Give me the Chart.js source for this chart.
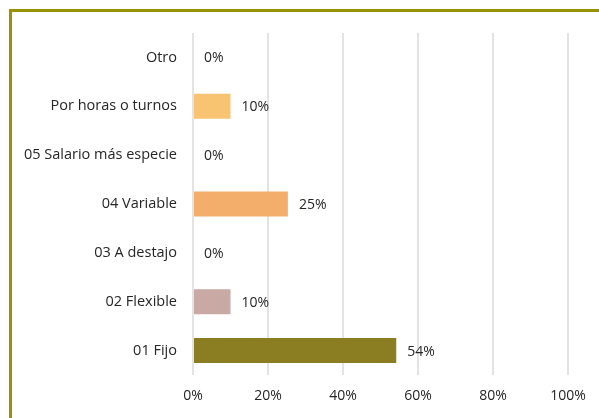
<!DOCTYPE html>
<html>
<head>
<meta charset="utf-8">
<script src="https://cdn.jsdelivr.net/npm/chart.js@4"></script>
<style>
  html, body { margin: 0; padding: 0; background: #fff; }
  #wrap { position: relative; width: 599px; height: 418px; overflow: hidden; }
  #frame { position: absolute; left: 9px; top: 9px; width: 700px; height: 500px;
           border-left: 3px solid #9C9105; border-top: 3px solid #9C9105; box-sizing: border-box; }
  canvas { position: absolute; left: 0; top: 0; }
</style>
</head>
<body>
<div id="wrap">
  <div id="frame"></div>
  <canvas id="c" width="599" height="418"></canvas>
</div>
<script>
const categories = ["Otro", "Por horas o turnos", "05 Salario más especie", "04 Variable", "03 A destajo", "02 Flexible", "01 Fijo"];
const values = [0, 10, 0, 25.3, 0, 10, 54.2];
const barColors = ["#F8C471", "#F8C471", "#F3AE6C", "#F3AE6C", "#C9A9A3", "#C9A9A3", "#8A7D22"];
const xTicks = [0, 20, 40, 60, 80, 100];

const FONT = "'Open Sans', Lato, sans-serif";

const labelPlugin = {
  id: 'barLabels',
  afterDatasetsDraw(chart) {
    const ctx = chart.ctx;
    const meta = chart.getDatasetMeta(0);
    ctx.save();
    ctx.font = "14px " + FONT;
    ctx.fillStyle = "#262626";
    ctx.textAlign = "left";
    ctx.textBaseline = "middle";
    meta.data.forEach((el, i) => {
      ctx.fillText(Math.round(values[i]) + "%", el.x + 11, el.y + 1);
    });
    ctx.restore();
  }
};

new Chart(document.getElementById('c'), {
  type: 'bar',
  data: {
    labels: categories,
    datasets: [{
      data: values,
      backgroundColor: barColors,
      borderWidth: 0,
      barPercentage: 0.51,
      categoryPercentage: 1.0
    }]
  },
  options: {
    indexAxis: 'y',
    responsive: false,
    animation: false,
    layout: { padding: { top: 33, right: 31, left: 0, bottom: 0 } },
    plugins: { legend: { display: false }, tooltip: { enabled: false } },
    scales: {
      x: {
        min: 0, max: 100,
        afterBuildTicks: s => { s.ticks = xTicks.map(v => ({ value: v })); },
        afterFit: s => { s.height = 43; },
        grid: { color: "#E3E3E3", lineWidth: 2, drawTicks: false },
        border: { display: false },
        ticks: { padding: 13, color: "#262626", font: { family: FONT, size: 14 }, callback: v => v + "%" }
      },
      y: {
        afterFit: s => { s.width = 193; },
        grid: { display: false, drawTicks: false },
        border: { display: false },
        ticks: { padding: 16, color: "#262626", font: { family: FONT, size: 14.5 } }
      }
    }
  },
  plugins: [labelPlugin]
});
</script>
</body>
</html>
